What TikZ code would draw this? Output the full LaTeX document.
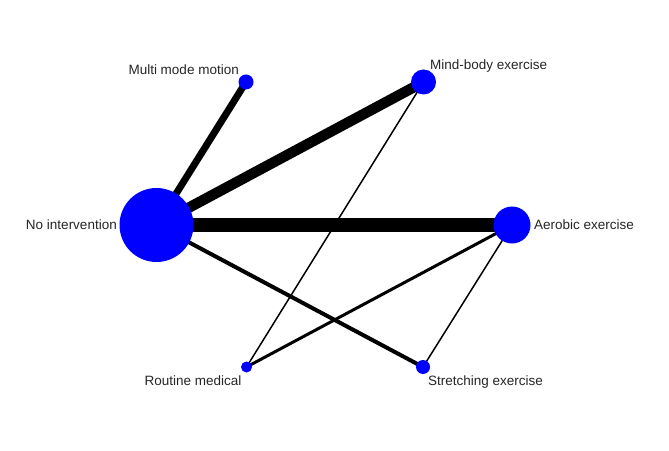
\documentclass[tikz,border=0pt]{standalone}
\usepackage{fontspec}
\setmainfont{Liberation Sans}
\usetikzlibrary{backgrounds}
\definecolor{nodeblue}{RGB}{0,0,255}
\begin{document}
\begin{tikzpicture}[x=1pt,y=1pt,
  trt/.style={circle,fill=nodeblue,draw=none,inner sep=0pt,minimum size=#1},
  lbl/.style={inner sep=0pt,font=\fontsize{13.5}{15}\selectfont,text=black!85},
  edge/.style={draw=black,line width=#1}]
\useasboundingbox (0,0) rectangle (669,450);
% treatment nodes
\node[trt=74pt] (NI) at (156.5,225) {};
\node[trt=15pt] (MM) at (246,368) {};
\node[trt=25pt] (MB) at (423.5,368) {};
\node[trt=37pt] (AE) at (512,225) {};
\node[trt=11pt] (RM) at (246.5,83) {};
\node[trt=14pt] (SE) at (423,83) {};
% labels
\node[lbl,anchor=east] (lNI) at (117,225) {No intervention};
\node[lbl,anchor=east] (lMM) at (239,380) {Multi mode motion};
\node[lbl,anchor=west] (lMB) at (430,384) {Mind-body exercise};
\node[lbl,anchor=west] (lAE) at (534,225) {Aerobic exercise};
\node[lbl] (lRM) at (193,69) {Routine medical};
\node[lbl] (lSE) at (485.5,68) {Stretching exercise};
% edges
\begin{scope}[on background layer]
\fill[white] (0,0) rectangle (669,450);
\path[edge=13.5pt] (NI.center) -- (AE.center);
\path[edge=10.5pt] (NI.center) -- (MB.center);
\path[edge=7pt] (NI.center) -- (MM.center);
\path[edge=4pt] (NI.center) -- (SE.center);
\path[edge=3pt] (AE.center) -- (RM.center);
\path[edge=1.5pt] (AE.center) -- (SE.center);
\path[edge=1.5pt] (MB.center) -- (RM.center);
\end{scope}
\end{tikzpicture}
\end{document}
